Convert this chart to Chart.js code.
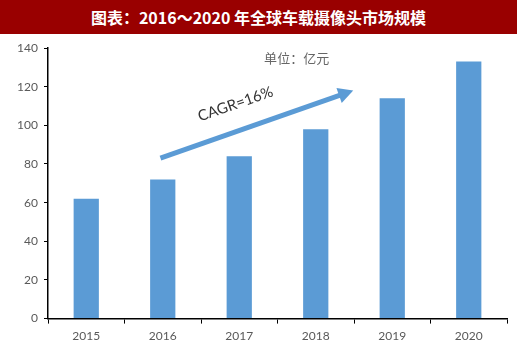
<!DOCTYPE html>
<html>
<head>
<meta charset="utf-8">
<script src="https://cdn.jsdelivr.net/npm/chart.js@4"></script>
<style>
  body { margin: 0; background: #fff; }
  #wrap { position: relative; width: 520px; height: 352px; }
  #title {
    position: absolute; left: 0; top: 0; width: 517px; height: 34px;
    background: #990000; color: #fff; text-align: center;
    font: bold 16px "Noto Sans CJK SC", sans-serif; line-height: 34px;
  }
</style>
</head>
<body>
<div id="wrap">
  <div id="title">图表：2016～2020&nbsp;年全球车载摄像头市场规模</div>
  <canvas id="marketChart" width="520" height="352"></canvas>
</div>
<script>
const years = ['2015', '2016', '2017', '2018', '2019', '2020'];
const marketSize = [62, 72, 84, 98, 114, 133];
const unitLabel = '单位：亿元';
const cagrLabel = 'CAGR=16%';
// arrow from/to in data units (category index, value)
const arrowFrom = [0.97, 83];
const arrowTo = [3.49, 118];

const arrowPlugin = {
    id: 'arrowNote',
    afterDatasetsDraw(chart) {
        const c = chart.ctx, x = chart.scales.x, y = chart.scales.y;
        const x0 = x.getPixelForValue(arrowFrom[0]), y0 = y.getPixelForValue(arrowFrom[1]);
        const x1 = x.getPixelForValue(arrowTo[0]), y1 = y.getPixelForValue(arrowTo[1]);
        const ang = Math.atan2(y1 - y0, x1 - x0);
        c.save();
        c.strokeStyle = '#5B9BD5';
        c.fillStyle = '#5B9BD5';
        c.lineWidth = 5;
        c.beginPath();
        c.moveTo(x0, y0);
        c.lineTo(x1 - 10 * Math.cos(ang), y1 - 10 * Math.sin(ang));
        c.stroke();
        c.translate(x1, y1);
        c.rotate(ang);
        c.beginPath();
        c.moveTo(0, 0);
        c.lineTo(-15, -8);
        c.lineTo(-15, 8);
        c.closePath();
        c.fill();
        c.restore();

        c.save();
        c.fillStyle = '#333';
        c.font = '15px Lato, "Open Sans", sans-serif';
        c.textAlign = 'center';
        c.textBaseline = 'middle';
        c.translate(x.getPixelForValue(1.95), y.getPixelForValue(111));
        c.rotate(ang);
        c.fillText(cagrLabel, 0, 0);
        c.restore();

        c.save();
        c.fillStyle = '#666';
        c.font = '13px "Noto Sans CJK SC", sans-serif';
        c.textAlign = 'center';
        c.textBaseline = 'middle';
        c.fillText(unitLabel, x.getPixelForValue(2.75), y.getPixelForValue(135));
        c.restore();
    }
};

const ctx = document.getElementById('marketChart').getContext('2d');
const marketChart = new Chart(ctx, {
    type: 'bar',
    data: {
        labels: years,
        datasets: [{
            data: marketSize,
            backgroundColor: '#5B9BD5',
            borderWidth: 0,
            barPercentage: 0.33,
            categoryPercentage: 1.0
        }]
    },
    options: {
        responsive: false,
        animation: false,
        layout: { padding: { top: 48, right: 13, bottom: 4, left: 0 } },
        plugins: { legend: { display: false }, tooltip: { enabled: false } },
        scales: {
            x: {
                grid: { offset: true, drawOnChartArea: false, color: '#000', tickLength: 5 },
                border: { color: '#000', width: 1.5 },
                ticks: { color: '#595959', font: { family: 'Lato', size: 12 }, padding: 5 }
            },
            y: {
                min: 0, max: 140,
                afterFit(s) { s.width = 48; },
                grid: { drawOnChartArea: false, color: '#000', tickLength: 4 },
                border: { color: '#000', width: 1.5 },
                ticks: { stepSize: 20, color: '#595959', font: { family: 'Lato', size: 12 }, padding: 6 }
            }
        }
    },
    plugins: [arrowPlugin]
});
</script>
</body>
</html>
